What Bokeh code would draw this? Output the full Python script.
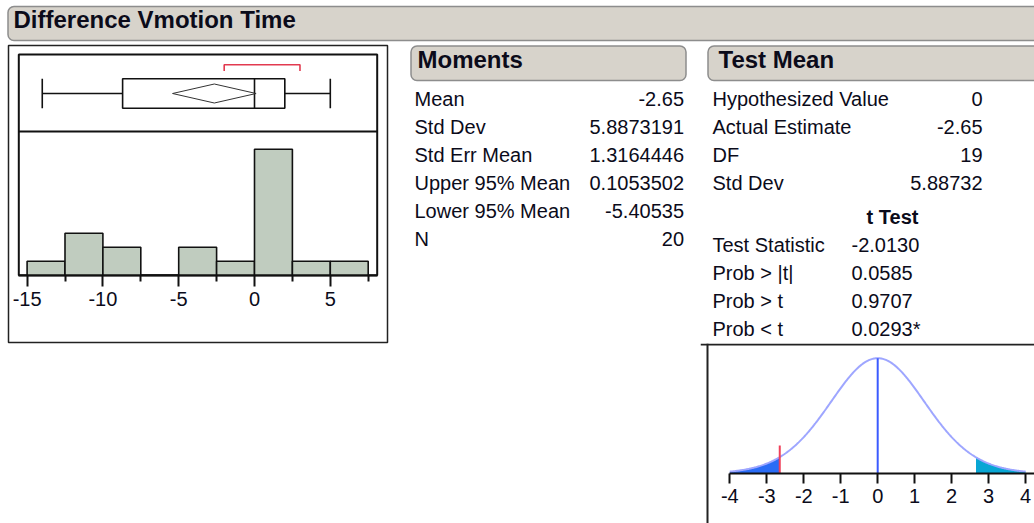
import math
import numpy as np
from bokeh.plotting import figure
from bokeh.models import Range1d, Span, FixedTicker, ColumnDataSource, LinearAxis
from bokeh.layouts import column, row
from bokeh.embed import file_html
from bokeh.resources import INLINE
from bokeh.core.properties import value

# ---------------- data ----------------
panel_title = "Difference Vmotion Time"
moments_title = "Moments"
test_title = "Test Mean"
ttest_title = "t Test"

hist_edges = [-15, -12.5, -10, -7.5, -5, -2.5, 0, 2.5, 5, 7.5]
hist_counts = [1, 3, 2, 0, 2, 1, 9, 1, 1]
hist_major_ticks = [-15, -10, -5, 0, 5]
hist_tick_labels = ["-15", "-10", "-5", "0", "5"]
hist_minor_ticks = [-12.5, -7.5, -2.5, 2.5, 7.5]

box_min = -14
box_q1 = -8.7
box_median = 0
box_q3 = 2
box_max = 5
mean_lower = -5.40535
mean_value = -2.65
mean_upper = 0.1053502
shortest_half = [-2, 3]

moment_labels = ["Mean", "Std Dev", "Std Err Mean", "Upper 95% Mean", "Lower 95% Mean", "N"]
moment_values = ["-2.65", "5.8873191", "1.3164446", "0.1053502", "-5.40535", "20"]

test_labels = ["Hypothesized Value", "Actual Estimate", "DF", "Std Dev"]
test_values = ["0", "-2.65", "19", "5.88732"]
ttest_labels = ["Test Statistic", "Prob > |t|", "Prob > t", "Prob < t"]
ttest_values = ["-2.0130", "0.0585", "0.9707", "0.0293*"]

hypothesized = 0.0
estimate = -2.65
std_err = 1.3164446
dof = 19
t_axis_ticks = [-4, -3, -2, -1, 0, 1, 2, 3, 4]
t_tick_labels = ["-4", "-3", "-2", "-1", "0", "1", "2", "3", "4"]

# ---------------- styles ----------------
FONT = value("Liberation Sans")
BODY_PX = 20
HEAD_PX = 24
BODY = f"{BODY_PX}px"
HEAD = f"{HEAD_PX}px"
TXT = "#0b0b1a"
INK = "#111111"
BAR_FILL = "#d7d3cb"
BAR_LINE = "#8d8d8d"


def by(y, size):
    # baseline correction for the text glyph (page y of the alphabetic baseline)
    return y - 0.4 * size


def no_align(p):
    try:
        p.frame_align = False
    except Exception:
        pass


def blank(w, h, x0, x1, y0, y1):
    p = figure(width=w, height=h, x_range=Range1d(x0, x1), y_range=Range1d(y1, y0),
               x_axis_type=None, y_axis_type=None, toolbar_location=None,
               output_backend="svg", min_border=0)
    p.min_border_left = p.min_border_right = p.min_border_top = p.min_border_bottom = 0
    p.grid.visible = False
    p.outline_line_color = None
    no_align(p)
    return p


def style_axis(a, ticks, labels, out):
    a.ticker = FixedTicker(ticks=ticks, minor_ticks=[])
    a.major_label_overrides = {t: s for t, s in zip(ticks, labels)}
    a.major_tick_out = out
    a.major_tick_in = 0
    a.major_tick_line_width = 2
    a.major_tick_line_color = INK
    a.axis_line_width = 2
    a.axis_line_color = INK
    a.major_label_text_font = "Liberation Sans"
    a.major_label_text_font_size = BODY
    a.major_label_text_color = TXT


# ---------------- header (page y 0..44) ----------------
hdr = blank(1034, 44, 0, 1034, 0, 44)
hdr.quad(left=7.5, right=1045, top=6, bottom=40, fill_color=BAR_FILL,
         line_color=BAR_LINE, line_width=1.5, border_radius=6)
hdr.text(x=[13], y=[by(28.3, HEAD_PX)], text=[panel_title], text_font=FONT,
         text_font_size=HEAD, text_font_style="bold", text_color=TXT,
         text_baseline="alphabetic")

# ---------------- left: box plot + histogram (page x 0..398, y 44..523) ----------------
PXU = 15.16      # px per data unit
X0PX = 254.0     # page x of 0
UNIT = 14.0      # px per count
BASE = 274.7     # page y of count 0
FL, FR, FT, FB = 8, 387, 45, 342   # outer panel (frame) in page px

left = figure(width=398, height=479,
              x_range=Range1d((FL - X0PX) / PXU, (FR - X0PX) / PXU),
              y_range=Range1d(-(FB - BASE) / UNIT, (BASE - FT) / UNIT),
              x_axis_type=None, y_axis_type=None, toolbar_location=None,
              output_backend="svg", min_border=0)
left.min_border_left = FL
left.min_border_right = 398 - FR
left.min_border_top = FT - 44
left.min_border_bottom = 523 - FB
left.grid.visible = False
left.outline_line_color = "#222222"
left.outline_line_width = 1.5
no_align(left)

in_l, in_r = (18.3 - X0PX) / PXU, (376.7 - X0PX) / PXU
in_t = (BASE - 54) / UNIT
divider_y = (BASE - 131) / UNIT

hax = LinearAxis(fixed_location=0, bounds=(in_l, in_r))
style_axis(hax, hist_major_ticks, hist_tick_labels, 11)
hax.ticker = FixedTicker(ticks=hist_major_ticks, minor_ticks=hist_minor_ticks)
hax.minor_tick_out = 6
hax.minor_tick_in = 0
hax.minor_tick_line_width = 2
hax.minor_tick_line_color = INK
hax.major_label_standoff = 6
left.add_layout(hax, "below")

left.quad(left=[in_l], right=[in_r], bottom=[0], top=[in_t], fill_color=None,
          line_color=INK, line_width=2)
left.segment(x0=[in_l], y0=[divider_y], x1=[in_r], y1=[divider_y], line_color=INK,
             line_width=2)

left.quad(left=hist_edges[:-1], right=hist_edges[1:], bottom=0, top=hist_counts,
          fill_color="#c0ccbf", line_color=INK, line_width=1.6)

cy = (BASE - 93) / UNIT
bh = 14.7 / UNIT
dh = 9.5 / UNIT
left.segment(x0=[box_min, box_q3], y0=[cy, cy], x1=[box_q1, box_max], y1=[cy, cy],
             line_color=INK, line_width=1.6)
left.segment(x0=[box_min, box_max], y0=[cy - bh, cy - bh], x1=[box_min, box_max],
             y1=[cy + bh, cy + bh], line_color=INK, line_width=1.6)
left.quad(left=[box_q1], right=[box_q3], bottom=[cy - bh], top=[cy + bh],
          fill_color="white", line_color=INK, line_width=1.6)
left.segment(x0=[box_median], y0=[cy - bh], x1=[box_median], y1=[cy + bh],
             line_color=INK, line_width=1.6)
left.patch(x=[mean_lower, mean_value, mean_upper, mean_value, mean_lower],
           y=[cy, cy + dh, cy, cy - dh, cy], fill_color=None, line_color="#333333",
           line_width=1)
br_top = (BASE - 64.3) / UNIT
br_bot = (BASE - 70.5) / UNIT
left.line(x=[shortest_half[0], shortest_half[0], shortest_half[1], shortest_half[1]],
          y=[br_bot, br_top, br_top, br_bot], line_color="#e23a50", line_width=1.6)

# ---------------- middle: moments (page x 398..700) ----------------
mid = blank(302, 479, 398, 700, 44, 523)
mid.quad(left=410.5, right=685.5, top=45.5, bottom=80, fill_color=BAR_FILL,
         line_color=BAR_LINE, line_width=1.5, border_radius=6)
mid.text(x=[417], y=[by(68.3, HEAD_PX)], text=[moments_title], text_font=FONT,
         text_font_size=HEAD, text_font_style="bold", text_color=TXT,
         text_baseline="alphabetic")
ROW0 = 106.7
STEP = 28
msrc = ColumnDataSource(dict(
    y=[by(ROW0 + i * STEP, BODY_PX) for i in range(len(moment_labels))],
    lab=moment_labels, val=moment_values))
mid.text(x=414, y="y", text="lab", source=msrc, text_font=FONT, text_font_size=BODY,
         text_color=TXT, text_baseline="alphabetic")
mid.text(x=683.5, y="y", text="val", source=msrc, text_font=FONT, text_font_size=BODY,
         text_color=TXT, text_baseline="alphabetic", text_align="right")

# ---------------- right: test mean (page x 700..1034, y 44..343) ----------------
rt = blank(334, 299, 700, 1034, 44, 343)
rt.quad(left=707.5, right=1045, top=45.5, bottom=80, fill_color=BAR_FILL,
        line_color=BAR_LINE, line_width=1.5, border_radius=6)
rt.text(x=[718], y=[by(68.3, HEAD_PX)], text=[test_title], text_font=FONT,
        text_font_size=HEAD, text_font_style="bold", text_color=TXT,
        text_baseline="alphabetic")
tsrc = ColumnDataSource(dict(
    y=[by(ROW0 + i * STEP, BODY_PX) for i in range(len(test_labels))],
    lab=test_labels, val=test_values))
rt.text(x=712, y="y", text="lab", source=tsrc, text_font=FONT, text_font_size=BODY,
        text_color=TXT, text_baseline="alphabetic")
rt.text(x=982, y="y", text="val", source=tsrc, text_font=FONT, text_font_size=BODY,
        text_color=TXT, text_baseline="alphabetic", text_align="right")
rt.text(x=[892], y=[by(224, BODY_PX)], text=[ttest_title], text_font=FONT,
        text_font_size=BODY, text_font_style="bold", text_color=TXT,
        text_baseline="alphabetic", text_align="center")
ROW1 = 252.3
ssrc = ColumnDataSource(dict(
    y=[by(ROW1 + i * STEP, BODY_PX) for i in range(len(ttest_labels))],
    lab=ttest_labels, val=ttest_values))
rt.text(x=712, y="y", text="lab", source=ssrc, text_font=FONT, text_font_size=BODY,
        text_color=TXT, text_baseline="alphabetic")
rt.text(x=851, y="y", text="val", source=ssrc, text_font=FONT, text_font_size=BODY,
        text_color=TXT, text_baseline="alphabetic")

# ---------------- t distribution plot (page x 700..1034, y 343..523) ----------------
def t_pdf(t, nu):
    c = math.exp(math.lgamma((nu + 1) / 2) - math.lgamma(nu / 2)) / math.sqrt(nu * math.pi)
    return c * (1 + t * t / nu) ** (-(nu + 1) / 2)

xs = np.linspace(t_axis_ticks[0], t_axis_ticks[-1], 401)
dens = t_pdf((xs - hypothesized) / std_err, dof) / std_err
peak = t_pdf(0.0, dof) / std_err

TPX = 36.96          # px per unit
T0PX = 877.2         # page x of 0
TBASE = 473.3        # page y of density 0
DPX = 115.6 / peak   # px per density unit

tp = figure(width=334, height=180,
            x_range=Range1d((700 - T0PX) / TPX, (1034 - T0PX) / TPX),
            y_range=Range1d(-(523 - TBASE) / DPX, (TBASE - 343) / DPX),
            x_axis_type=None, y_axis_type=None, toolbar_location=None,
            output_backend="svg", min_border=0)
tp.min_border_left = tp.min_border_right = tp.min_border_top = tp.min_border_bottom = 0
tp.grid.visible = False
tp.outline_line_color = None
no_align(tp)

tax = LinearAxis(fixed_location=0, bounds=(t_axis_ticks[0], 4.5))
style_axis(tax, t_axis_ticks, t_tick_labels, 10)
tax.major_label_standoff = 5
tp.add_layout(tax, "below")

# panel border (top and left edges)
tp.add_layout(Span(location=(707 - T0PX) / TPX, dimension="height", line_color="#222222",
                   line_width=2))
tp.add_layout(Span(location=(TBASE - 344) / DPX, dimension="width", line_color="#222222",
                   line_width=2))

crit = abs(estimate - hypothesized)
lm = xs <= hypothesized - crit
rm = xs >= hypothesized + crit
tp.varea(x=xs[lm], y1=0, y2=dens[lm], fill_color="#2a6cf6")
tp.varea(x=xs[rm], y1=0, y2=dens[rm], fill_color="#08a6d4")
tp.line(xs, dens, line_color="#9ea6ff", line_width=2)
tp.segment(x0=[hypothesized], y0=[0], x1=[hypothesized], y1=[peak],
           line_color="#3b5bff", line_width=2)
tp.segment(x0=[estimate], y0=[0], x1=[estimate], y1=[peak * 0.245],
           line_color="#f0405a", line_width=2)

layout = column(hdr, row(left, mid, column(rt, tp)))
open("out.html", "w").write(file_html(layout, INLINE, title=panel_title))
